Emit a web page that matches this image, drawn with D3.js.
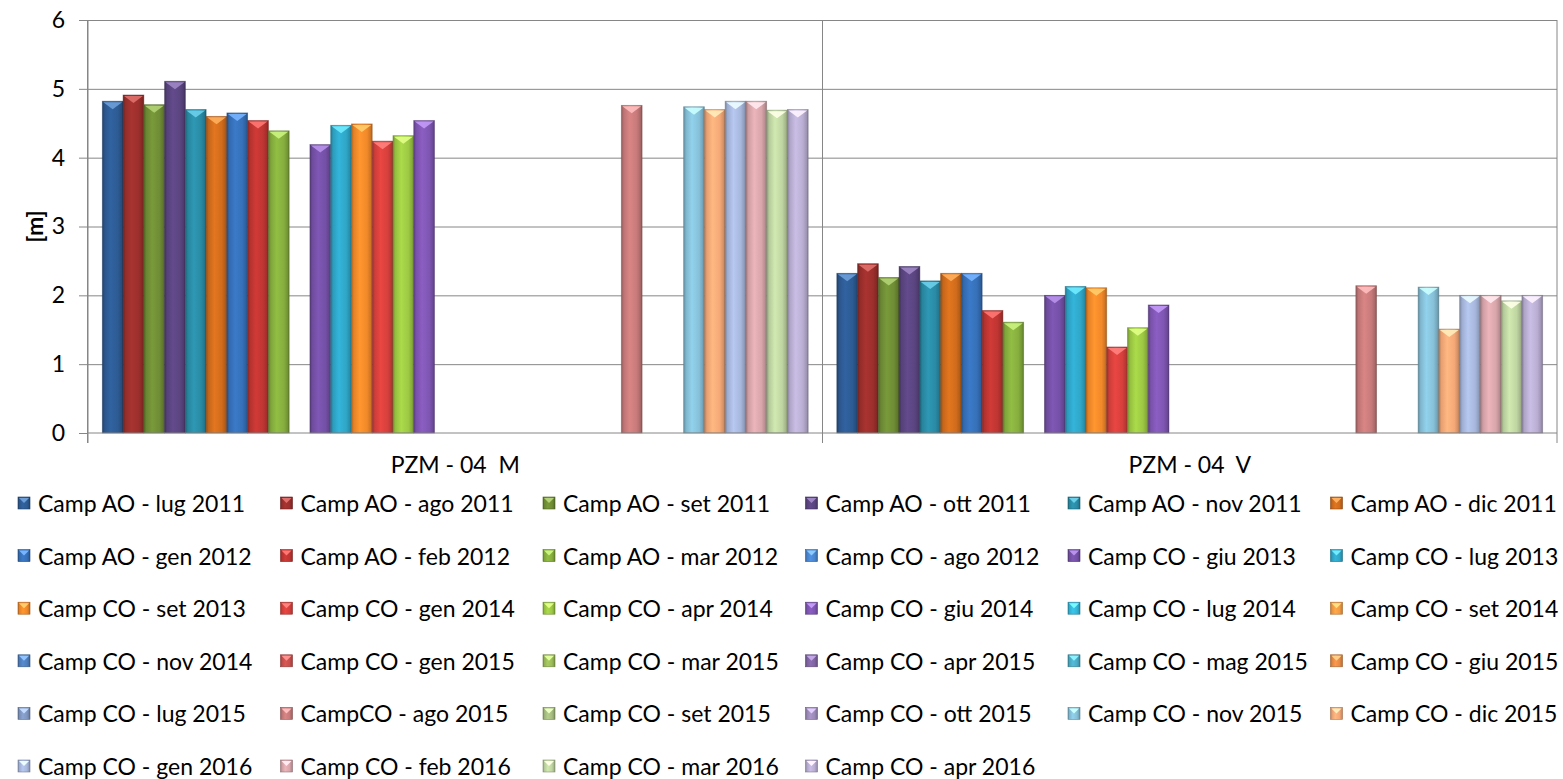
<!DOCTYPE html>
<html>
<head>
<meta charset="utf-8">
<script src="https://cdn.jsdelivr.net/npm/d3@7"></script>
<style>
  body { margin: 0; background: #ffffff; }
  svg { display: block; }
  text { font-family: Lato, "Open Sans", sans-serif; fill: #000000; }
</style>
</head>
<body>
<svg id="chart" width="1563" height="779"></svg>
<script>
// Piezometer groups on the x axis
const categories = ["PZM - 04  M", "PZM - 04  V"];

// Survey campaigns, one bar series each
const seriesNames = [
  "Camp AO - lug 2011", "Camp AO - ago 2011", "Camp AO - set 2011", "Camp AO - ott 2011", "Camp AO - nov 2011", "Camp AO - dic 2011",
  "Camp AO - gen 2012", "Camp AO - feb 2012", "Camp AO - mar 2012", "Camp CO - ago 2012", "Camp CO - giu 2013", "Camp CO - lug 2013",
  "Camp CO - set 2013", "Camp CO - gen 2014", "Camp CO - apr 2014", "Camp CO - giu 2014", "Camp CO - lug 2014", "Camp CO - set 2014",
  "Camp CO - nov 2014", "Camp CO - gen 2015", "Camp CO - mar 2015", "Camp CO - apr 2015", "Camp CO - mag 2015", "Camp CO - giu 2015",
  "Camp CO - lug 2015", "CampCO - ago 2015", "Camp CO - set 2015", "Camp CO - ott 2015", "Camp CO - nov 2015", "Camp CO - dic 2015",
  "Camp CO - gen 2016", "Camp CO - feb 2016", "Camp CO - mar 2016", "Camp CO - apr 2016"
];

// Water level [m] per campaign (null = no reading)
const valuesM = [
  4.82, 4.91, 4.77, 5.11, 4.70, 4.60,
  4.65, 4.54, 4.39, null, 4.19, 4.47,
  4.49, 4.24, 4.32, 4.54, null, null,
  null, null, null, null, null, null,
  null, 4.76, null, null, 4.74, 4.70,
  4.82, 4.82, 4.69, 4.70
];
const valuesV = [
  2.32, 2.46, 2.26, 2.42, 2.21, 2.32,
  2.32, 1.78, 1.61, null, 2.00, 2.13,
  2.11, 1.25, 1.53, 1.86, null, null,
  null, null, null, null, null, null,
  null, 2.14, null, null, 2.12, 1.51,
  2.00, 2.00, 1.92, 2.00
];

const seriesColors = [
  "#2d5b93", "#9b2f2c", "#6f8d35", "#5b4580", "#2a8ba5", "#d06c1c",
  "#3670b8", "#be3532", "#86ae3e", "#4a86d0", "#7450a6", "#2fa6c7",
  "#f2892a", "#d6403c", "#9cc844", "#7f56b2", "#35b5d8", "#f49b43",
  "#4f7fbd", "#c8504d", "#9bbb59", "#8064a2", "#4bacc6", "#e88b45",
  "#7f96c0", "#c77a7a", "#a6bc80", "#9c8ab8", "#86c0d8", "#f5a877",
  "#a7b7dc", "#d8a6ab", "#bfd5a2", "#b9aed2"
];

const yTicks = [0, 1, 2, 3, 4, 5, 6];

const svg = d3.select("#chart");
const plot = { left: 88, right: 1557, top: 20, bottom: 433 };
const gridColor = "#868686";

const x0 = d3.scaleBand().domain(categories).range([plot.left, plot.right]).padding(0);
const x1 = d3.scaleBand().domain(d3.range(seriesNames.length))
  .range([0, x0.bandwidth()]).paddingInner(0).paddingOuter(0.69);
const y = d3.scaleLinear().domain([0, 6]).range([plot.bottom, plot.top]);

// Bevel-like gradients, one per series
const defs = svg.append("defs");
seriesColors.forEach((c, i) => {
  const base = d3.color(c);
  const g = defs.append("linearGradient").attr("id", "bar-grad-" + i)
    .attr("x1", "0%").attr("x2", "100%").attr("y1", "0%").attr("y2", "0%");
  [[0, base.darker(0.9)], [0.12, base.darker(0.15)], [0.4, base.brighter(0.25)],
   [0.75, base], [0.92, base.darker(0.45)], [1, base.darker(1.1)]]
    .forEach(([o, col]) => g.append("stop").attr("offset", o).attr("stop-color", col.formatHex()));
});

// Horizontal gridlines
svg.append("g").attr("class", "grid")
  .attr("transform", `translate(${plot.left},0)`)
  .call(d3.axisLeft(y).tickValues(yTicks.slice(1)).tickSize(-(plot.right - plot.left)).tickFormat(""))
  .call(g => g.select(".domain").remove())
  .call(g => g.selectAll("line").attr("stroke", gridColor).attr("stroke-width", 1));

// Vertical lines at category boundaries (with ticks below the axis)
const boundaries = categories.map(c => x0(c)).concat([x0(categories[categories.length - 1]) + x0.bandwidth()]);
svg.append("g").selectAll("line").data(boundaries).join("line")
  .attr("x1", d => d).attr("x2", d => d)
  .attr("y1", plot.top).attr("y2", plot.bottom + 10)
  .attr("stroke", gridColor).attr("stroke-width", 1);

// Bars
const rows = [];
categories.forEach((cat, ci) => {
  const vals = ci === 0 ? valuesM : valuesV;
  vals.forEach((v, si) => { if (v != null) rows.push({ cat, si, v }); });
});

const bars = svg.append("g").selectAll("g.bar").data(rows).join("g").attr("class", "bar");
bars.append("rect")
  .attr("x", d => x0(d.cat) + x1(d.si))
  .attr("y", d => y(d.v))
  .attr("width", x1.bandwidth())
  .attr("height", d => y(0) - y(d.v))
  .attr("fill", d => `url(#bar-grad-${d.si})`)
  .attr("stroke", d => d3.color(seriesColors[d.si]).darker(1.2).formatHex())
  .attr("stroke-opacity", 0.55)
  .attr("stroke-width", 0.8);
// Lighter chevron at the top of each bar
bars.append("path")
  .attr("d", d => {
    const bx = x0(d.cat) + x1(d.si), by = y(d.v), w = x1.bandwidth();
    const h = Math.min(8, y(0) - y(d.v));
    return `M${bx + 1},${by + 1}L${bx + w - 1},${by + 1}L${bx + w / 2},${by + h}Z`;
  })
  .attr("fill", d => {
    const c = d3.color(seriesColors[d.si]);
    return d3.interpolateRgb(c.brighter(0.9), "#ffffff")(0.25);
  })
  .attr("opacity", 0.9);

// Bottom axis line
svg.append("line")
  .attr("x1", plot.left).attr("x2", plot.right)
  .attr("y1", plot.bottom).attr("y2", plot.bottom)
  .attr("stroke", gridColor).attr("stroke-width", 1);

// Y axis
svg.append("g")
  .attr("transform", `translate(${plot.left},0)`)
  .call(d3.axisLeft(y).tickValues(yTicks).tickSize(9).tickPadding(14).tickFormat(d3.format("d")))
  .call(g => g.select(".domain").attr("stroke", gridColor).attr("d", `M-0.5,${plot.top}V${plot.bottom + 10}`))
  .call(g => g.selectAll("line").attr("stroke", gridColor))
  .call(g => g.selectAll("text").attr("font-size", 23).attr("font-family", "Lato, sans-serif").attr("fill", "#000"));

svg.append("text")
  .attr("transform", `translate(37,${(plot.top + plot.bottom) / 2}) rotate(-90)`)
  .attr("text-anchor", "middle").attr("dominant-baseline", "middle")
  .attr("font-size", 23).attr("font-weight", "bold")
  .text("[m]");

// Category labels
svg.append("g")
  .attr("transform", `translate(0,${plot.bottom})`)
  .call(d3.axisBottom(x0).tickSize(0).tickPadding(24))
  .call(g => g.select(".domain").remove())
  .call(g => g.selectAll("text").attr("font-size", 23).attr("font-family", "Lato, sans-serif")
    .attr("fill", "#000").style("white-space", "pre"));

// Legend: 6 columns
const legendCols = 6, colW = 262.5, rowH = 52.6, lx0 = 18, ly0 = 503;
const legend = svg.append("g").selectAll("g.item").data(seriesNames).join("g")
  .attr("class", "item")
  .attr("transform", (d, i) => `translate(${lx0 + (i % legendCols) * colW},${ly0 + Math.floor(i / legendCols) * rowH})`);
legend.append("rect")
  .attr("x", 0).attr("y", -6).attr("width", 12).attr("height", 12)
  .attr("fill", (d, i) => `url(#bar-grad-${i})`)
  .attr("stroke", (d, i) => d3.color(seriesColors[i]).darker(1).formatHex())
  .attr("stroke-width", 0.6);
legend.append("path")
  .attr("d", "M1,-5L11,-5L6,0Z")
  .attr("fill", (d, i) => d3.interpolateRgb(d3.color(seriesColors[i]).brighter(0.9), "#ffffff")(0.25));
legend.append("text")
  .attr("x", 20).attr("y", 0)
  .attr("dominant-baseline", "central")
  .attr("font-size", 23)
  .text(d => d);
</script>
</body>
</html>
